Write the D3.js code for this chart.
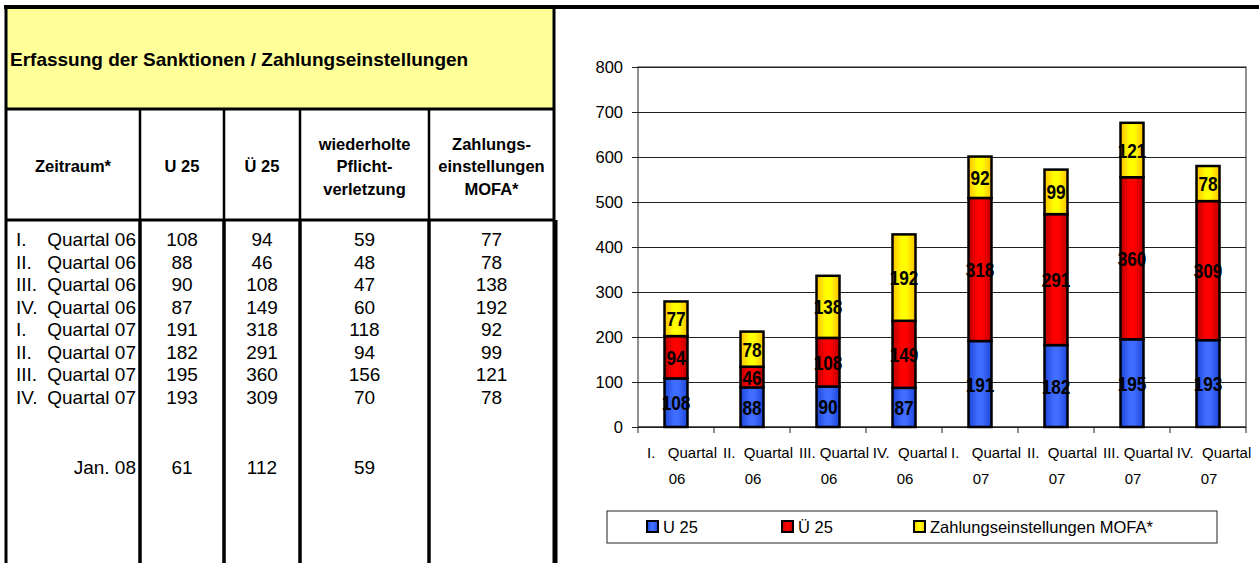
<!DOCTYPE html>
<html>
<head>
<meta charset="utf-8">
<script src="https://cdn.jsdelivr.net/npm/d3@7"></script>
<style>
  body { margin: 0; background: #fff; }
  svg { display: block; font-family: "Liberation Sans", Arial, sans-serif; }
  text { white-space: pre; }
</style>
</head>
<body>
<div class="chart"></div>
<script>
// table + chart data
const periods = ['I. Quartal 06', 'II. Quartal 06', 'III. Quartal 06', 'IV. Quartal 06',
                 'I. Quartal 07', 'II. Quartal 07', 'III. Quartal 07', 'IV. Quartal 07'];
const u25 = [108, 88, 90, 87, 191, 182, 195, 193];
const ue25 = [94, 46, 108, 149, 318, 291, 360, 309];
const pflicht = [59, 48, 47, 60, 118, 94, 156, 70];
const mofa = [77, 78, 138, 192, 92, 99, 121, 78];
const janLabel = 'Jan. 08';
const janValues = [61, 112, 59, ''];
const title = 'Erfassung der Sanktionen / Zahlungseinstellungen';
const headers = [['Zeitraum*'], ['U 25'], ['Ü 25'], ['wiederholte', 'Pflicht-', 'verletzung'],
                 ['Zahlungs-', 'einstellungen', 'MOFA*']];
const seriesNames = ['U 25', 'Ü 25', 'Zahlungseinstellungen MOFA*'];
const yTicks = [0, 100, 200, 300, 400, 500, 600, 700, 800];

const W = 1259, H = 563;
let svg = d3.select('.chart')
    .append('svg')
        .attr('width', W)
        .attr('height', H);

// gradients for the bars
const defs = svg.append('defs');
const grads = [
    {id: 'gBlue', edge: '#1f45d8', mid: '#3f6dff'},
    {id: 'gRed', edge: '#b80000', mid: '#ff0000'},
    {id: 'gYellow', edge: '#ffbf00', mid: '#ffff00'}
];
grads.forEach(g => {
    let lg = defs.append('linearGradient').attr('id', g.id)
        .attr('x1', '0%').attr('x2', '100%').attr('y1', '0%').attr('y2', '0%');
    lg.append('stop').attr('offset', '0%').attr('stop-color', g.edge);
    lg.append('stop').attr('offset', '40%').attr('stop-color', g.mid);
    lg.append('stop').attr('offset', '60%').attr('stop-color', g.mid);
    lg.append('stop').attr('offset', '100%').attr('stop-color', g.edge);
});

// ---------- table ----------
const colEdges = [6, 140, 224, 300, 429, 554];
const titleTop = 9, titleBottom = 109, headBottom = 220;
const table = svg.append('g');

table.append('rect')
    .attr('x', colEdges[0]).attr('y', titleTop)
    .attr('width', colEdges[5] - colEdges[0]).attr('height', titleBottom - titleTop)
    .style('fill', '#ffff99');

table.append('text')
    .attr('x', 10).attr('y', 66)
    .style('font-size', '19px').style('font-weight', 'bold')
    .text(title);

let rowY = d3.scaleLinear().domain([0, 7]).range([239, 397]);
const colMid = i => (colEdges[i] + colEdges[i + 1]) / 2;

// header texts
headers.forEach((lines, i) => {
    let t = table.append('text')
        .attr('text-anchor', 'middle')
        .style('font-size', '16.5px').style('font-weight', 'bold');
    lines.forEach((ln, j) => {
        t.append('tspan')
            .attr('x', colMid(i))
            .attr('y', 172 + (j - (lines.length - 1) / 2) * 22.5)
            .text(ln);
    });
});

// body rows
const rows = periods.map((p, i) => ({period: p, vals: [u25[i], ue25[i], pflicht[i], mofa[i]], y: rowY(i)}));
rows.push({period: janLabel, vals: janValues, y: 467});

const fs = '19px';
rows.forEach(r => {
    let sp = r.period.indexOf(' ');
    if (r.period.startsWith('Jan')) {
        table.append('text').attr('x', 136).attr('y', r.y + 7)
            .attr('text-anchor', 'end').style('font-size', fs).text(r.period);
    } else {
        table.append('text').attr('x', 16).attr('y', r.y + 7)
            .style('font-size', fs).text(r.period.slice(0, sp));
        table.append('text').attr('x', 136).attr('y', r.y + 7)
            .attr('text-anchor', 'end').style('font-size', fs).text(r.period.slice(sp + 1));
    }
    r.vals.forEach((v, j) => {
        table.append('text').attr('x', colMid(j + 1)).attr('y', r.y + 7)
            .attr('text-anchor', 'middle').style('font-size', fs).text(v);
    });
});

// table lines
table.append('line').attr('x1', 4).attr('x2', W).attr('y1', 7).attr('y2', 7)
    .style('stroke', '#000').style('stroke-width', 4);
[titleBottom, headBottom].forEach(yy => {
    table.append('line').attr('x1', colEdges[0]).attr('x2', colEdges[5]).attr('y1', yy).attr('y2', yy)
        .style('stroke', '#000').style('stroke-width', 3);
});
table.append('line').attr('x1', colEdges[0]).attr('x2', colEdges[0]).attr('y1', 5).attr('y2', H)
    .style('stroke', '#000').style('stroke-width', 3);
table.append('line').attr('x1', colEdges[5]).attr('x2', colEdges[5]).attr('y1', 5).attr('y2', headBottom)
    .style('stroke', '#000').style('stroke-width', 3);
table.append('line').attr('x1', colEdges[5] + 1).attr('x2', colEdges[5] + 1).attr('y1', headBottom).attr('y2', H)
    .style('stroke', '#000').style('stroke-width', 5);
colEdges.slice(1, 5).forEach(xx => {
    table.append('line').attr('x1', xx).attr('x2', xx).attr('y1', titleBottom).attr('y2', headBottom)
        .style('stroke', '#000').style('stroke-width', 2.5);
    table.append('line').attr('x1', xx).attr('x2', xx).attr('y1', headBottom).attr('y2', H)
        .style('stroke', '#000').style('stroke-width', 3.5);
});

// ---------- chart ----------
const plot = {left: 638, right: 1246, top: 67, bottom: 427};
let xScale = d3.scaleBand().domain(periods).range([plot.left, plot.right]);
let yScale = d3.scaleLinear().domain([0, 800]).range([plot.bottom, plot.top]);
const chart = svg.append('g');

// gridlines
let grid = d3.axisLeft(yScale).tickValues(yTicks).tickSize(-(plot.right - plot.left)).tickFormat('');
chart.append('g').attr('transform', `translate(${plot.left},0)`).call(grid)
    .call(g => g.select('.domain').remove())
    .selectAll('line').style('stroke', '#222').style('stroke-width', 1);

chart.append('rect')
    .attr('x', plot.left).attr('y', plot.top)
    .attr('width', plot.right - plot.left).attr('height', plot.bottom - plot.top)
    .style('fill', 'none').style('stroke', '#222').style('stroke-width', 1);

// y axis
let yAxis = d3.axisLeft(yScale).tickValues(yTicks).tickSize(6).tickPadding(9);
chart.append('g').attr('transform', `translate(${plot.left},0)`).call(yAxis)
    .call(g => g.select('.domain').remove())
    .call(g => g.selectAll('line').style('stroke', '#222'))
    .call(g => g.selectAll('text').style('font-size', '16.5px').style('fill', '#000')
        .style('font-family', '"Liberation Sans", Arial, sans-serif'));

// x axis ticks at band edges
const edges = periods.map(p => xScale(p)).concat([plot.right]);
chart.selectAll('.xtick').data(edges).enter().append('line')
    .attr('x1', d => d).attr('x2', d => d)
    .attr('y1', plot.bottom).attr('y2', plot.bottom + 6)
    .style('stroke', '#222');
chart.append('line').attr('x1', plot.left).attr('x2', plot.right)
    .attr('y1', plot.bottom).attr('y2', plot.bottom).style('stroke', '#222');

// category labels (wrapped in two lines)
periods.forEach(p => {
    let sp = p.indexOf(' ');
    let roman = p.slice(0, sp);
    let rest = p.slice(sp + 1).split(' ');
    let line1 = roman + ' '.repeat(Math.max(1, 5 - roman.length)) + rest[0];
    let cx = xScale(p) + xScale.bandwidth() / 2;
    let t = chart.append('text').attr('text-anchor', 'middle').style('font-size', '15px');
    t.append('tspan').attr('x', cx + 6).attr('y', 458).text(line1);
    t.append('tspan').attr('x', cx + 1).attr('y', 484).text(rest[1]);
});

// stacked bars
const stackRows = periods.map((p, i) => ({period: p, u25: u25[i], ue25: ue25[i], mofa: mofa[i]}));
const keys = ['u25', 'ue25', 'mofa'];
const stacked = d3.stack().keys(keys)(stackRows);
const fills = ['url(#gBlue)', 'url(#gRed)', 'url(#gYellow)'];
const barW = 23;

stacked.forEach((layer, k) => {
    let g = chart.append('g');
    g.selectAll('rect').data(layer).enter().append('rect')
        .attr('x', d => xScale(d.data.period) + xScale.bandwidth() / 2 - barW / 2)
        .attr('y', d => yScale(d[1]))
        .attr('width', barW)
        .attr('height', d => yScale(d[0]) - yScale(d[1]))
        .style('fill', fills[k])
        .style('stroke', '#000')
        .style('stroke-width', 2.5);
});

// value labels
stacked.forEach(layer => {
    chart.append('g').selectAll('text').data(layer).enter().append('text')
        .attr('transform', d => `translate(${xScale(d.data.period) + xScale.bandwidth() / 2},${yScale((d[0] + d[1]) / 2) + 7.5}) scale(0.84,1)`)
        .attr('text-anchor', 'middle')
        .style('font-size', '20.5px').style('font-weight', 'bold')
        .text(d => d[1] - d[0]);
});

// legend
const legendX = [647, 782, 914];
const legend = chart.append('g');
legend.append('rect').attr('x', 607).attr('y', 511).attr('width', 610).attr('height', 32)
    .style('fill', '#fff').style('stroke', '#222').style('stroke-width', 1);
seriesNames.forEach((name, i) => {
    legend.append('rect').attr('x', legendX[i]).attr('y', 521).attr('width', 11).attr('height', 11)
        .style('fill', fills[i]).style('stroke', '#000').style('stroke-width', 2);
    legend.append('text').attr('x', legendX[i] + 16).attr('y', 533)
        .style('font-size', '16.5px').text(name);
});
</script>
</body>
</html>
